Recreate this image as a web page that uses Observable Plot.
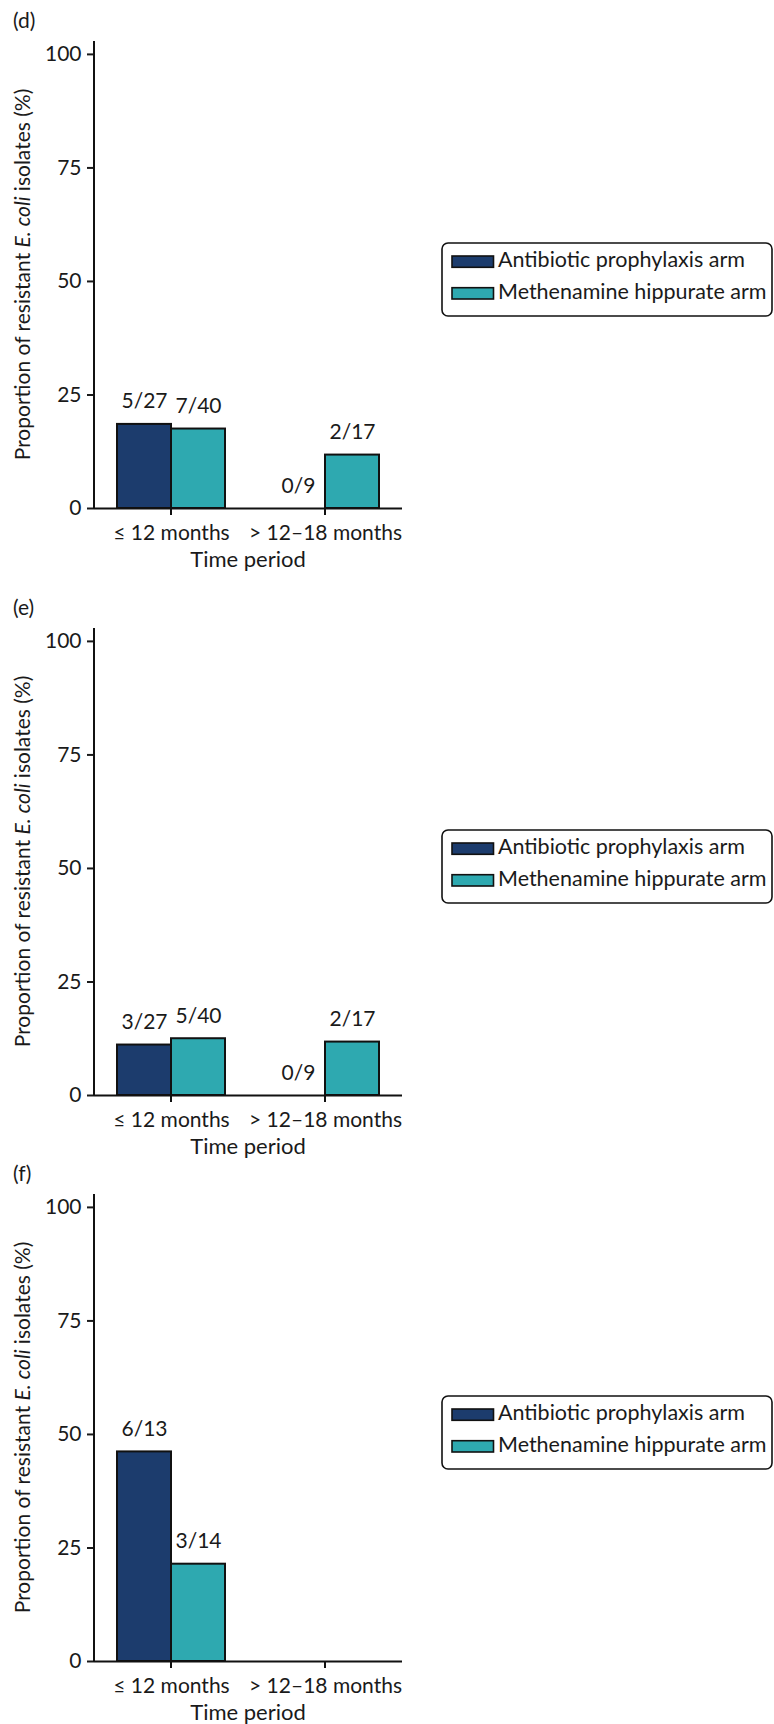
<!DOCTYPE html>
<html>
<head>
<meta charset="utf-8">
<script src="https://cdn.jsdelivr.net/npm/d3@7"></script>
<script src="https://cdn.jsdelivr.net/npm/@observablehq/plot@0.6"></script>
<style>
  body { margin: 0; background: #fff; font-family: Lato, sans-serif; }
  #chart { position: relative; width: 774px; height: 1724px; overflow: hidden; }
  .panel { position: absolute; left: 0; }
</style>
</head>
<body>
<div id="chart"></div>
<script>
// Categories
const periods = ["≤ 12 months", "> 12–18 months"];
const arms = ["Antibiotic prophylaxis arm", "Methenamine hippurate arm"];
const armColors = ["#1c3c6d", "#2ea9b0"];
const yTicks = [0, 25, 50, 75, 100];

// Resistant isolates / isolates tested, ordered (period, arm):
// [≤12 antibiotic, ≤12 methenamine, >12–18 antibiotic, >12–18 methenamine]
const panelLetters = ["(d)", "(e)", "(f)"];
const resistantD = [5, 7, 0, 2];
const isolatesD = [27, 40, 9, 17];
const resistantE = [3, 5, 0, 2];
const isolatesE = [27, 40, 9, 17];
const resistantF = [6, 3, null, null];
const isolatesF = [13, 14, null, null];

const panels = [
  {letter: panelLetters[0], resistant: resistantD, isolates: isolatesD, top: 0},
  {letter: panelLetters[1], resistant: resistantE, isolates: isolatesE, top: 587},
  {letter: panelLetters[2], resistant: resistantF, isolates: isolatesF, top: 1153}
];

const FONT = 21;
const INK = "#1a1a1a";
const LINE = "#111";

function rowsFor(resistant, isolates) {
  return resistant.map((n, i) => ({
    period: periods[Math.floor(i / 2)],
    arm: arms[i % 2],
    pct: n == null ? null : (n / isolates[i]) * 100,
    label: n == null ? null : `${n}/${isolates[i]}`
  }));
}

function drawPanel(p) {
  const rows = rowsFor(p.resistant, p.isolates);
  const plot = Plot.plot({
    width: 774,
    height: 574,
    marginTop: 41,
    marginBottom: 66,
    marginLeft: 94,
    marginRight: 372,
    style: {background: "transparent", fontFamily: "Lato, sans-serif", fontSize: FONT + "px", color: INK, overflow: "visible"},
    fx: {domain: periods, padding: 0, label: null},
    x: {domain: arms, paddingInner: 0, paddingOuter: 0.41, axis: null},
    y: {domain: [0, 102.84], label: null},
    color: {domain: arms, range: armColors},
    marks: [
      Plot.barY(rows, {fx: "period", x: "arm", y: "pct", fill: "arm", stroke: LINE, strokeWidth: 2}),
      Plot.text(rows.filter(r => r.label != null), {
        fx: "period", x: "arm", y: "pct", text: "label",
        lineAnchor: "bottom", dy: -16, fontSize: FONT, fill: INK
      }),
      Plot.ruleY([0], {stroke: LINE, strokeWidth: 2}),
      Plot.axisY({ticks: yTicks, tickSize: 7, tickPadding: 6, strokeWidth: 2, label: null, fontSize: FONT}),
      Plot.axisFx({anchor: "bottom", tickSize: 0, tickPadding: 17, label: null, fontSize: FONT})
    ]
  });

  const svg = d3.select(plot);
  const [yBottom, yTop] = plot.scale("y").range;
  const fx = plot.scale("fx");
  const x0 = 94, x1 = 774 - 372;

  // y-axis domain line
  svg.append("line")
    .attr("x1", x0).attr("x2", x0).attr("y1", yTop).attr("y2", yBottom + 1)
    .attr("stroke", LINE).attr("stroke-width", 2);

  // period tick marks below the baseline
  periods.forEach(d => {
    const cx = fx.apply(d) + fx.bandwidth / 2;
    svg.append("line")
      .attr("x1", cx).attr("x2", cx).attr("y1", yBottom).attr("y2", yBottom + 7)
      .attr("stroke", LINE).attr("stroke-width", 2);
  });

  // panel letter
  svg.append("text")
    .attr("x", 13).attr("y", 28)
    .attr("text-anchor", "start")
    .attr("font-size", FONT).attr("fill", INK)
    .text(p.letter);

  // y-axis title with italic species name
  const yt = svg.append("text")
    .attr("transform", `translate(30,${(yBottom + yTop) / 2}) rotate(-90)`)
    .attr("text-anchor", "middle")
    .attr("font-size", FONT).attr("fill", INK);
  yt.append("tspan").text("Proportion of resistant ");
  yt.append("tspan").attr("font-style", "italic").text("E. coli");
  yt.append("tspan").text(" isolates (%)");

  // x-axis title
  svg.append("text")
    .attr("x", (x0 + x1) / 2).attr("y", yBottom + 59)
    .attr("text-anchor", "middle")
    .attr("font-size", 22).attr("fill", INK)
    .text("Time period");

  // legend built from the plot's color scale
  const color = plot.scale("color");
  const lg = svg.append("g").attr("transform", "translate(442,243)");
  lg.append("rect")
    .attr("x", 0).attr("y", 0).attr("width", 330).attr("height", 73)
    .attr("rx", 6).attr("fill", "#fff").attr("stroke", LINE).attr("stroke-width", 1.6);
  color.domain.forEach((d, i) => {
    const base = 24.3 + i * 31.7;
    lg.append("rect")
      .attr("x", 10).attr("y", base - 11.3).attr("width", 41.5).attr("height", 11.3)
      .attr("fill", color.range[i]).attr("stroke", LINE).attr("stroke-width", 1.6);
    lg.append("text")
      .attr("x", 56).attr("y", base)
      .attr("text-anchor", "start")
      .attr("font-size", 21.5).attr("fill", INK)
      .text(d);
  });

  const wrap = document.createElement("div");
  wrap.className = "panel";
  wrap.style.top = p.top + "px";
  wrap.appendChild(plot);
  return wrap;
}

const chart = document.getElementById("chart");
panels.forEach(p => chart.appendChild(drawPanel(p)));
</script>
</body>
</html>
